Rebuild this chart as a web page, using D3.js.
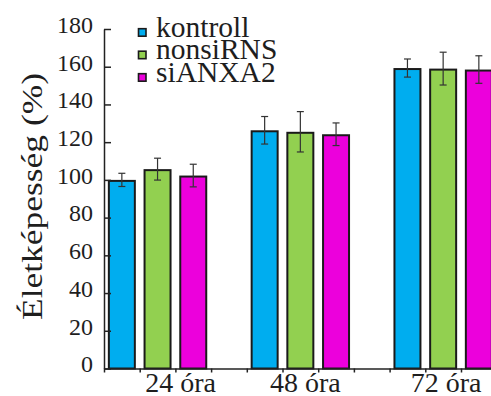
<!DOCTYPE html>
<html>
<head>
<meta charset="utf-8">
<script src="https://cdn.jsdelivr.net/npm/d3@7"></script>
<style>
	body { margin: 0; background: #fff; }
	svg text { font-family: "Liberation Serif", "DejaVu Serif", "Times New Roman", serif !important; fill: #1e1e1e; }
</style>
</head>
<body>
<div id="chartDiv"></div>
<script>
// data
var timePoints = ["24 óra", "48 óra", "72 óra"];
var seriesNames = ["kontroll", "nonsiRNS", "siANXA2"];
var kontrollValues = [100, 126.3, 159.3];
var kontrollErrors = [3.5, 7.3, 4.8];
var nonsiValues = [105.7, 125.5, 159];
var nonsiErrors = [5.8, 10.7, 8.7];
var siAnxaValues = [102.3, 124.2, 158.5];
var siAnxaErrors = [6, 6, 7.3];
var yTicks = [0, 20, 40, 60, 80, 100, 120, 140, 160, 180];
var yAxisLabelHeader = "Életképesség (%)";

;(function() {

	var width = 491;
	var height = 396;
	var margin = { top: 29, left: 104, bottom: 27 };
	var colors = ["#00adef", "#92d050", "#ec00dc"];
	var labelNudge = [23, 5, 3];
	var serif = "'Liberation Serif', 'DejaVu Serif', 'Times New Roman', serif";

	var chart;
	var rows;

	init();

	function init() {
		var series = [
			{ values: kontrollValues, errors: kontrollErrors },
			{ values: nonsiValues, errors: nonsiErrors },
			{ values: siAnxaValues, errors: siAnxaErrors }
		];
		rows = [];
		timePoints.forEach(function(t, i) {
			seriesNames.forEach(function(s, j) {
				rows.push({ time: t, name: s, idx: j, val: series[j].values[i], err: series[j].errors[i] });
			});
		});

		chart = d3.select("#chartDiv").append("svg")
			.attr("width", width)
			.attr("height", height);

		createScales();
		drawBars();
		createAxes();
		drawLegend();
	}

	function createScales() {
		var slot = 35.7;
		// 11 slots: 3 bars, gap, 3 bars, gap, 3 bars
		chart.slotScale = d3.scaleLinear()
			.domain([0, 11])
			.range([margin.left, margin.left + 11 * slot]);

		chart.xScale = d3.scaleBand()
			.domain(timePoints)
			.range(chart.slotScale.range())
			.paddingInner(0.25)
			.paddingOuter(0);

		chart.innerScale = d3.scaleBand()
			.domain(seriesNames)
			.range([0, chart.xScale.bandwidth()])
			.paddingInner(0.272)
			.paddingOuter(0.136);

		chart.yScale = d3.scaleLinear()
			.domain([0, 180])
			.range([height - margin.bottom - 0.5, margin.top]);
	}

	function drawBars() {
		var y0 = chart.yScale(0);

		chart.selectAll(".bar")
			.data(rows)
			.enter().append("rect")
				.attr("class", "bar")
				.attr("x", function(d) { return chart.xScale(d.time) + chart.innerScale(d.name); })
				.attr("y", function(d) { return chart.yScale(d.val) + 1; })
				.attr("width", chart.innerScale.bandwidth())
				.attr("height", function(d) { return y0 - chart.yScale(d.val) - 1; })
				.attr("fill", function(d) { return colors[d.idx]; })
				.attr("stroke", "#1a1a1a")
				.attr("stroke-width", 2);

		// error bars
		var cap = 3.5;
		var eb = chart.selectAll(".err")
			.data(rows)
			.enter().append("g")
				.attr("class", "err")
				.attr("stroke", "#333")
				.attr("stroke-width", 1.2);

		function cx(d) { return chart.xScale(d.time) + chart.innerScale(d.name) + chart.innerScale.bandwidth() / 2; }

		eb.append("line")
			.attr("x1", cx).attr("x2", cx)
			.attr("y1", function(d) { return chart.yScale(d.val + d.err); })
			.attr("y2", function(d) { return chart.yScale(d.val - d.err); });
		eb.append("line")
			.attr("x1", function(d) { return cx(d) - cap; })
			.attr("x2", function(d) { return cx(d) + cap; })
			.attr("y1", function(d) { return chart.yScale(d.val + d.err); })
			.attr("y2", function(d) { return chart.yScale(d.val + d.err); });
		eb.append("line")
			.attr("x1", function(d) { return cx(d) - cap; })
			.attr("x2", function(d) { return cx(d) + cap; })
			.attr("y1", function(d) { return chart.yScale(d.val - d.err); })
			.attr("y2", function(d) { return chart.yScale(d.val - d.err); });
	}

	function createAxes() {
		var y0 = chart.yScale(0);

		// x axis: small ticks at every slot boundary, no labels
		chart.xAxis = d3.axisBottom(chart.slotScale)
			.tickValues(d3.range(0, 12))
			.tickSize(4)
			.tickSizeOuter(0)
			.tickFormat("");

		chart.xAxisContainer = chart.append("g")
			.attr("class", "x axis")
			.attr("transform", "translate(0," + y0 + ")")
			.call(chart.xAxis);
		chart.xAxisContainer.selectAll("path, line")
			.attr("stroke", "#222")
			.attr("stroke-width", 1.5);

		// group labels
		chart.selectAll(".xlabel")
			.data(timePoints)
			.enter().append("text")
				.attr("class", "xlabel")
				.attr("text-anchor", "middle")
				.attr("font-family", serif)
				.style("font-size", "28px")
				.attr("x", function(d, i) { return chart.xScale(d) + chart.xScale.bandwidth() / 2 + labelNudge[i]; })
				.attr("y", 392)
				.text(function(d) { return d; });

		// y axis, ticks pointing inward
		chart.yAxis = d3.axisLeft(chart.yScale)
			.tickValues(yTicks)
			.tickSize(-7)
			.tickSizeOuter(0)
			.tickPadding(11);

		chart.yAxisContainer = chart.append("g")
			.attr("class", "y axis")
			.attr("font-family", serif)
			.attr("transform", "translate(" + margin.left + ",0)")
			.call(chart.yAxis);
		chart.yAxisContainer.selectAll("path, line")
			.attr("stroke", "#222")
			.attr("stroke-width", 1.5);
		chart.yAxisContainer.selectAll("text")
			.attr("dy", "0.14em")
			.style("font-size", "24px")
			.attr("fill", "#1e1e1e");

		// y axis header label
		chart.append("text")
			.attr("text-anchor", "middle")
			.attr("font-family", serif)
			.style("font-size", "29px")
			.attr("textLength", 247)
			.attr("lengthAdjust", "spacingAndGlyphs")
			.attr("transform", "translate(42, 196.5) rotate(-90)")
			.text(yAxisLabelHeader);
	}

	function drawLegend() {
		var legend = chart.selectAll(".legend")
			.data(seriesNames)
			.enter().append("g")
				.attr("class", "legend")
				.attr("transform", function(d, i) { return "translate(138," + (36.7 + i * 22.5) + ")"; });

		legend.append("rect")
			.attr("x", 0.5)
			.attr("y", -8)
			.attr("width", 7.5)
			.attr("height", 7.5)
			.attr("fill", function(d, i) { return colors[i]; })
			.attr("stroke", "#1a1a1a")
			.attr("stroke-width", 1.6);

		legend.append("text")
			.attr("x", 18)
			.attr("y", 0)
			.attr("font-family", serif)
			.style("font-size", "29.5px")
			.text(function(d) { return d; });
	}

})();
</script>
</body>
</html>
